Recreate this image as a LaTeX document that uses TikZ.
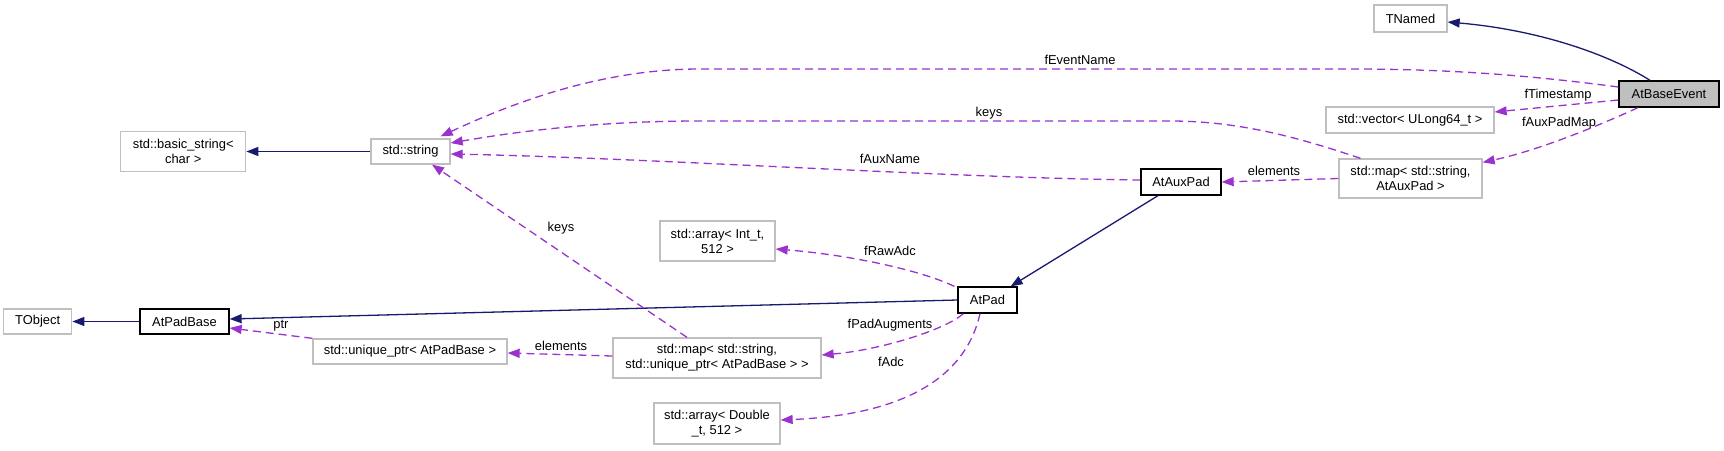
\documentclass[tikz,border=0pt]{standalone}
\usepackage{fontspec}
\setmainfont{Liberation Sans}
\usetikzlibrary{arrows.meta,positioning}
\definecolor{navy}{HTML}{191970}
\definecolor{orchid}{HTML}{9A32CD}
\definecolor{rim}{HTML}{BFBFBF}

\begin{document}
\begin{tikzpicture}[
  x=1pt,y=-1pt,
  font=\fontsize{12.9}{15}\selectfont,
  tpl/.style={draw=rim,line width=1.3pt,fill=white,inner sep=2pt,
              align=center},
  cls/.style={tpl,draw=black},
  sel/.style={cls,fill=rim},
  lbl/.style={inner sep=0pt,text height=9.3pt,text depth=2.7pt},
  inh/.style={-{Triangle[length=12pt,width=9pt]},line width=1.3pt,draw=navy},
  use/.style={-{Triangle[length=12pt,width=9pt]},line width=1.3pt,
              draw=orchid,dash pattern=on 8pt off 5pt},
]
\useasboundingbox (0,0) rectangle (1724,450);

% Classes
\node[sel,minimum width=100pt,minimum height=26pt] (evt) at (1669,94) {AtBaseEvent};
\node[tpl,minimum width=73pt,minimum height=27pt] (tnamed) at (1410.5,18.5) {TNamed};
\node[tpl,minimum width=168pt,minimum height=26pt] (vec) at (1410,120)
  {std::vector< ULong64\_t >};
\node[tpl,minimum width=143pt,minimum height=39pt] (auxmap) at (1410.5,178.5)
  {std::map< std::string,\\AtAuxPad >};
\node[cls,minimum width=80pt,minimum height=26pt] (auxpad) at (1181,182) {AtAuxPad};
\node[cls,minimum width=59pt,minimum height=26pt] (atpad) at (987.5,300) {AtPad};
\node[tpl,minimum width=115pt,minimum height=40pt] (arrint) at (717.5,241)
  {std::array< Int\_t,\\512 >};
\node[tpl,minimum width=208pt,minimum height=40pt] (padmap) at (717,358)
  {std::map< std::string,\\std::unique\_ptr< AtPadBase > >};
\node[tpl,minimum width=126pt,minimum height=41pt] (arrdbl) at (717,423.5)
  {std::array< Double\\\_t, 512 >};
\node[tpl,minimum width=79pt,minimum height=25pt] (str) at (410.5,151.5) {std::string};
\node[tpl,minimum width=125pt,minimum height=40pt,left=124pt of str] (basicstr)
  {std::basic\_string<\\char >};
\node[cls,minimum width=89pt,minimum height=25pt] (padbase) at (184.5,321.5) {AtPadBase};
\node[tpl,minimum width=68pt,minimum height=25pt,left=67pt of padbase] (tobject) {TObject};
\node[tpl,minimum width=194pt,minimum height=25pt] (uptr) at (410,351.5)
  {std::unique\_ptr< AtPadBase >};

% Edge labels
\node[lbl] (lEvName) at (1080,61) {fEventName};
\node[lbl] (lStamp) at (1558,95) {fTimestamp};
\node[lbl] (lAuxMap) at (1559,123) {fAuxPadMap};
\node[lbl] (lKeysTop) at (989,113) {keys};
\node[lbl] (lAuxName) at (890,160) {fAuxName};
\node[lbl] (lElemTop) at (1274,172) {elements};
\node[lbl] (lRaw) at (890,252) {fRawAdc};
\node[lbl] (lAug) at (890,325) {fPadAugments};
\node[lbl] (lAdc) at (891,363) {fAdc};
\node[lbl] (lKeysLow) at (561,228) {keys};
\node[lbl] (lElemLow) at (561,347) {elements};
\node[lbl] (lPtr) at (281,325) {ptr};

% Inheritance
\draw[inh] ([xshift=-19pt]evt.north) .. controls (1610,55) and (1540,30)
  .. ([yshift=-3.5pt]tnamed.east);
\draw[inh] (str.west) -- (basicstr.east);
\draw[inh] ([xshift=-23pt]auxpad.south) -- ([xshift=-7pt]atpad.north east);
\draw[inh] (atpad.west) -- ([yshift=2.5pt]padbase.east);
\draw[inh] (padbase.west) -- (tobject.east);

% Members
\draw[use] ([yshift=7pt]evt.west) .. controls (1520,74) and (1440,69) .. (1350,69)
  -- (700,69) .. controls (610,69) and (525,97) .. ([xshift=-10pt,yshift=2pt]str.north east);
\draw[use] ([yshift=-6pt]evt.west) -- ([yshift=8pt]vec.east);
\draw[use] ([xshift=-31pt]evt.south) .. controls (1600,125) and (1540,150)
  .. ([yshift=-4pt]auxmap.north east);
\draw[use] ([xshift=-50pt]auxmap.north) .. controls (1300,138) and (1240,121) .. (1170,121)
  -- (700,121) .. controls (600,121) and (520,131) .. ([yshift=8.5pt]str.east);
\draw[use] ([yshift=2pt]auxpad.west) .. controls (950,178) and (650,158)
  .. ([yshift=-2.5pt]str.east);
\draw[use] (auxmap.west) -- (auxpad.east);
\draw[use] ([xshift=-3pt]atpad.north west) .. controls (920,270) and (850,255)
  .. ([yshift=-8pt]arrint.east);
\draw[use] ([xshift=6pt]atpad.south west) .. controls (945,330) and (880,350)
  .. ([yshift=3pt]padmap.east);
\draw[use] ([xshift=-7.5pt]atpad.south) .. controls (965,380) and (900,415)
  .. ([yshift=3.5pt]arrdbl.east);
\draw[use] ([yshift=2pt]padmap.west) -- ([yshift=-1.5pt]uptr.east);
\draw[use] ([xshift=-30pt]padmap.north) -- ([xshift=21.5pt]str.south);
\draw[use] (uptr.north west) -- ([yshift=-6.5pt]padbase.east);

\end{tikzpicture}
\end{document}
